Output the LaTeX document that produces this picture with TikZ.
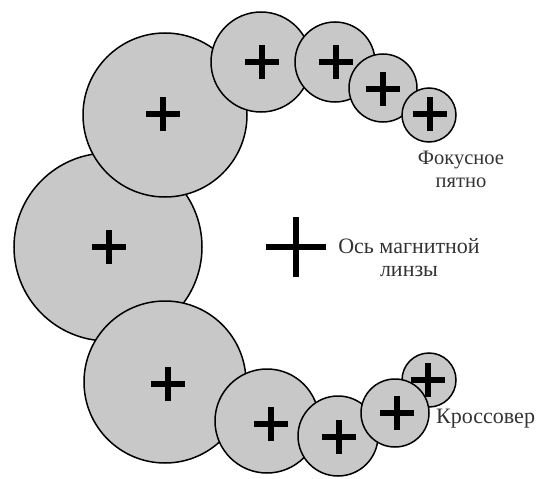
\documentclass[tikz,border=0pt]{standalone}
\usepackage{fontspec}
\setmainfont{Liberation Serif}
\begin{document}
\begin{tikzpicture}[x=1pt,y=-1pt,
  lens/.style={circle,draw=black,line width=1.5pt,fill=lensgray,inner sep=0pt,minimum size=#1},
  crossmark/.style={inner sep=0pt,minimum size=#1,
    path picture={\draw[line width=5.5pt]
      (path picture bounding box.west) -- (path picture bounding box.east)
      (path picture bounding box.north) -- (path picture bounding box.south);}},
  lbl/.style={font=\fontsize{22}{23}\selectfont,text=black!80,inner sep=0pt,align=center}]
\definecolor{lensgray}{RGB}{200,200,200}
\path[use as bounding box] (0,0) rectangle (547,479);
% middle column
\node[lens=188pt] (m) at (108,247) {};
\node[lens=164pt] (t1) at (165,115) {};
\node[lens=162pt] (b1) at (165,382) {};
% upper arc (to focal spot)
\node[lens=100pt] (t2) at (261,62) {};
\node[lens=80pt] (t3) at (335,62) {};
\node[lens=68pt] (t4) at (383,88) {};
\node[lens=54pt] (t5) at (429,115) {};
% lower arc (to crossover)
\node[lens=104pt] (b2) at (267,421) {};
\node[lens=80pt] (b3) at (338,436) {};
\node[lens=54pt] (b5) at (429,380) {};
\node[lens=68pt] (b4) at (395,413) {};
% crosses
\node[crossmark=34pt] (km) at (109,247) {};
\node[crossmark=34pt] (kt1) at (163,114) {};
\node[crossmark=34pt] (kb1) at (168,384) {};
\node[crossmark=34pt] (kt2) at (262,62) {};
\node[crossmark=34pt] (kt3) at (336,62) {};
\node[crossmark=34pt] (kt4) at (383,89) {};
\node[crossmark=34pt] (kt5) at (430,114) {};
\node[crossmark=34pt] (kb2) at (271,424) {};
\node[crossmark=34pt] (kb3) at (339,437) {};
\node[crossmark=34pt] (kb4) at (397,413) {};
\node[crossmark=34pt] (kb5) at (428,380) {};
% lens axis
\node[crossmark=60pt] (axis) at (296,247) {};
% labels
\node[lbl,font=\fontsize{20.5}{23}\selectfont] (focus) at (461,169) {Фокусное\\пятно};
\node[lbl] (axislbl) at (409,258) {Ось магнитной\\линзы};
\node[lbl,anchor=west] (cross) at (436,419) {Кроссовер};
\end{tikzpicture}
\end{document}
